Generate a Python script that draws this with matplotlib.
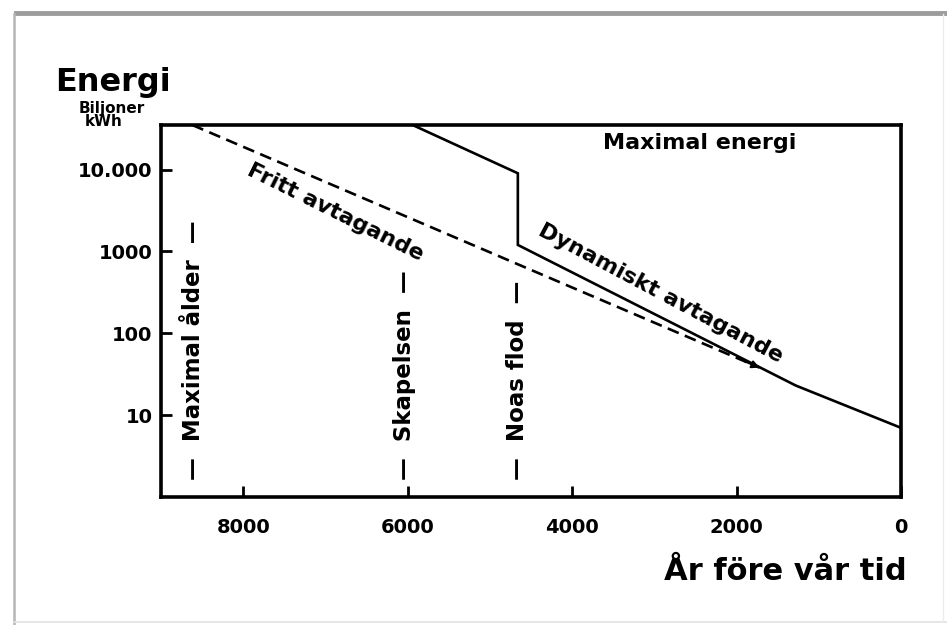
import matplotlib.pyplot as plt
from matplotlib.lines import Line2D
import numpy as np

plt.rcParams['font.family'] = ['DejaVu Sans']
plt.rcParams['font.weight'] = 'bold'

# values (years before our time, energy in billion kWh)
dyn_years = [5940, 4660, 4660, 1280, 0]
dyn_energy = [35000, 9000, 1200, 23, 7]
free_years = [8620, 1720]
free_energy = [35000, 38]
event_years = [8600, 6040, 4660]
event_names = ['Maximal ålder', 'Skapelsen', 'Noas flod']
ytick_vals = [10, 100, 1000, 10000]
ytick_labels = ['10', '100', '1000', '10.000']
xtick_vals = [8000, 6000, 4000, 2000, 0]

W, H = 947, 625
fig = plt.figure(figsize=(W / 100, H / 100), dpi=100)
fig.patch.set_facecolor('white')

# card frame around the picture
fig.add_artist(Line2D([16 / W, 1], [1 - 13 / H, 1 - 13 / H], color='#9c9c9c', lw=3.5))
fig.add_artist(Line2D([14 / W, 14 / W], [1 - 14 / H, 0], color='#b5b5b5', lw=1.8))
fig.add_artist(Line2D([14 / W, 1], [3 / H, 3 / H], color='#e2e2e2', lw=1.2))
fig.add_artist(Line2D([943 / W, 943 / W], [3 / H, 1 - 14 / H], color='#ececec', lw=1.0))

ax = fig.add_axes([161 / W, 1 - 497 / H, (901 - 161) / W, (497 - 125) / H])
ax.set_yscale('log')
ax.set_xlim(9000, 0)
ax.set_ylim(1, 35000)

ax.plot(dyn_years, dyn_energy, color='black', lw=1.9, solid_joinstyle='miter')
ax.plot(free_years, free_energy, color='black', lw=1.9, linestyle=(0, (4.5, 2.5)))
ax.annotate('', xy=(free_years[-1], free_energy[-1]), xytext=(-11, 4.7),
            textcoords='offset points',
            arrowprops=dict(arrowstyle='-|>', color='black', lw=1.5,
                            mutation_scale=11, shrinkA=0, shrinkB=0))

for yr, name in zip(event_years, event_names):
    ax.text(yr, 1.6, '—  ' + name + '  —', rotation=90, ha='center', va='bottom',
            fontsize=16.5, fontweight='bold')

ax.text(2450, 21000, 'Maximal energi', ha='center', va='center', fontsize=16,
        fontweight='bold')
ax.text(6880, 3000, 'Fritt avtagande', ha='center', va='center', fontsize=16,
        fontweight='bold', rotation=-26.5, rotation_mode='anchor')
ax.text(2920, 310, 'Dynamiskt avtagande', ha='center', va='center', fontsize=16,
        fontweight='bold', rotation=-28, rotation_mode='anchor')

ax.set_yticks(ytick_vals)
ax.set_yticklabels(ytick_labels)
ax.yaxis.set_minor_locator(plt.NullLocator())
ax.set_xticks(xtick_vals)
ax.tick_params(axis='both', direction='in', length=8, width=2, labelsize=14)
ax.tick_params(axis='x', pad=15)
ax.tick_params(axis='y', pad=6)
for lab in ax.get_xticklabels() + ax.get_yticklabels():
    lab.set_fontweight('bold')
for sp in ax.spines.values():
    sp.set_linewidth(2.6)

fig.text(55 / W, 1 - 91 / H, 'Energi', ha='left', va='baseline', fontsize=23,
         fontweight='bold')
fig.text(112 / W, 1 - 108 / H, 'Biljoner', ha='center', va='center', fontsize=11,
         fontweight='bold')
fig.text(104 / W, 1 - 122 / H, 'kWh', ha='center', va='center', fontsize=11,
         fontweight='bold')
fig.text(907 / W, 1 - 580 / H, 'År före vår tid', ha='right', va='baseline',
         fontsize=22, fontweight='bold')

fig.savefig('out.png', dpi=100)
